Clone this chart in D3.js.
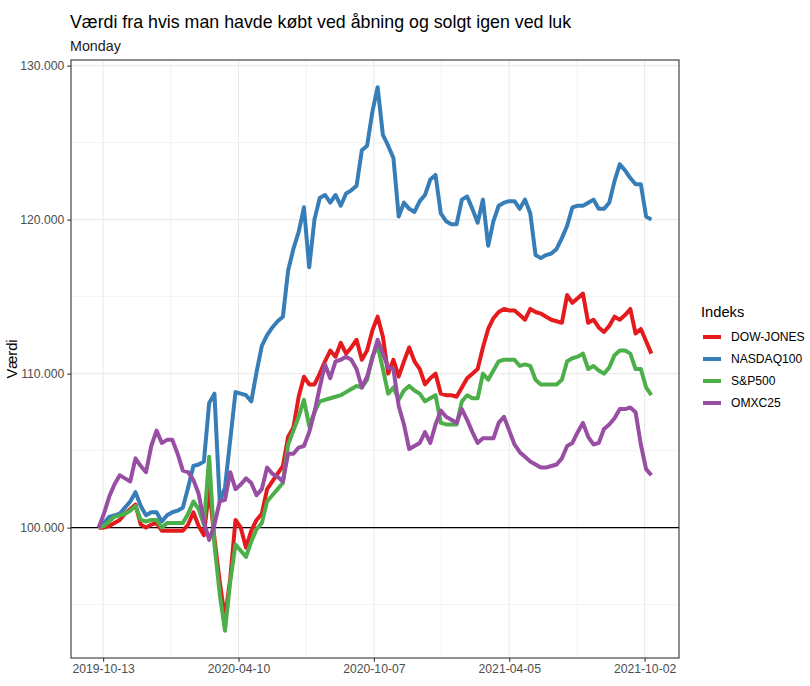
<!DOCTYPE html>
<html>
<head>
<meta charset="utf-8">
<script src="https://cdn.jsdelivr.net/npm/d3@7/dist/d3.min.js"></script>
<style>
    body { margin: 0; background: #ffffff; }
    text { font-family: "Liberation Sans", Arial, sans-serif; }
</style>
</head>
<body>
<div id="chart"></div>
<script>
// Weekly (Monday) values, in thousands (100 = 100.000)
const startDate = new Date(Date.UTC(2019, 9, 7));
const endDate = new Date(Date.UTC(2021, 9, 12));
const dates = d3.utcMonday.range(startDate, endDate);

const seriesNames = ['DOW-JONES', 'NASDAQ100', 'S&P500', 'OMXC25'];
const seriesColors = ['#E41A1C', '#377EB8', '#4DAF4A', '#984EA3'];

const dowJones = [
    100.0, 100.0, 100.1, 100.3, 100.5, 100.9, 101.2, 101.5, 100.2, 100.0,
    100.2, 100.3, 99.8, 99.8, 99.8, 99.8, 99.8, 100.2, 101.0, 100.1,
    99.5, 102.6, 99.3, 96.5, 94.1, 96.7, 100.5, 100.0, 98.7, 99.8,
    100.5, 100.9, 102.5, 103.0, 103.5, 104.0, 105.9, 106.5, 108.5, 109.8,
    109.3, 109.3, 110.0, 110.8, 111.5, 111.1, 112.0, 111.3, 111.7, 112.2,
    110.9, 111.5, 112.8, 113.7, 112.4, 110.0, 110.9, 109.8, 110.8, 111.7,
    110.8, 110.3, 109.3, 109.7, 110.0, 108.7, 108.6, 108.6, 108.5, 109.1,
    109.7, 110.0, 110.3, 111.7, 112.9, 113.6, 114.0, 114.2, 114.1, 114.1,
    113.8, 113.5, 114.2, 114.0, 113.9, 113.7, 113.5, 113.4, 113.3, 115.1,
    114.6, 114.9, 115.2, 113.3, 113.5, 113.0, 112.7, 113.1, 113.7, 113.5,
    113.8, 114.2, 112.6, 112.9, 112.1, 111.3
];

const nasdaq100 = [
    100.0, 100.3, 100.7, 100.8, 100.9, 101.3, 101.7, 102.3, 101.4, 100.8,
    101.0, 101.0, 100.4, 100.8, 101.0, 101.1, 101.3, 102.6, 104.0, 104.1,
    104.3, 108.1, 108.7, 101.7, 102.6, 105.7, 108.8, 108.7, 108.6, 108.2,
    110.1, 111.8, 112.5, 113.0, 113.4, 113.7, 116.7, 118.1, 119.2, 120.8,
    116.9, 120.0, 121.4, 121.6, 121.1, 121.6, 120.9, 121.7, 121.9, 122.2,
    124.5, 124.8, 127.0, 128.6, 125.5, 124.8, 124.0, 120.2, 121.1, 120.7,
    120.5, 121.2, 121.6, 122.6, 122.9, 120.4, 119.9, 119.7, 119.7, 121.3,
    121.5, 120.7, 119.8, 121.3, 118.3, 119.9, 120.9, 121.1, 121.2, 121.2,
    120.7, 121.3, 120.4, 117.7, 117.5, 117.7, 117.8, 118.1, 118.8, 119.6,
    120.8, 120.9, 120.9, 121.1, 121.3, 120.7, 120.7, 121.1, 122.5, 123.6,
    123.2, 122.7, 122.3, 122.3, 120.2, 120.0
];

const sp500 = [
    100.0, 100.1, 100.4, 100.7, 100.8, 100.9, 101.1, 101.4, 100.5, 100.4,
    100.5, 100.5, 100.0, 100.3, 100.3, 100.3, 100.3, 100.9, 101.7, 101.2,
    100.2, 104.6, 98.9, 95.7, 93.3, 96.5, 98.9, 98.5, 98.1, 99.1,
    99.9, 100.3, 101.7, 102.1, 102.5, 102.9, 105.4, 106.3, 107.2, 108.3,
    106.6, 107.5, 108.2, 108.3, 108.4, 108.5, 108.6, 108.8, 109.0, 109.2,
    109.1, 109.6, 111.1, 111.8, 110.3, 108.7, 109.1, 108.3, 108.9, 109.2,
    108.9, 108.7, 108.2, 108.4, 108.6, 106.8, 106.7, 106.7, 106.7, 108.2,
    108.6, 108.4, 108.4, 110.0, 109.6, 110.2, 110.8, 110.9, 110.9, 110.9,
    110.5, 110.6, 110.5, 109.6, 109.3, 109.3, 109.3, 109.3, 109.6, 110.8,
    111.0, 111.1, 111.3, 110.3, 110.5, 110.2, 110.0, 110.4, 111.2, 111.5,
    111.5, 111.3, 110.3, 110.3, 109.1, 108.6
];

const omxc25 = [
    100.0, 100.9, 102.0, 102.8, 103.4, 103.2, 103.0, 104.5, 104.0, 103.6,
    105.3, 106.3, 105.5, 105.7, 105.7, 104.8, 103.7, 103.6, 103.1, 102.2,
    100.4, 99.2, 100.2, 101.7, 101.8, 103.6, 102.5, 102.8, 103.2, 102.9,
    102.1, 102.5, 103.9, 103.5, 103.3, 103.0, 104.8, 104.8, 105.2, 105.3,
    106.2, 107.5, 109.1, 110.6, 109.7, 110.8, 110.9, 111.1, 110.9, 110.3,
    109.1, 109.8, 111.0, 112.2, 111.3, 110.4, 110.3, 107.9, 106.7, 105.1,
    105.3, 105.5, 106.2, 105.5, 106.7, 107.6, 107.2, 107.0, 106.8, 107.7,
    107.0, 106.2, 105.5, 105.8, 105.8, 105.8, 106.8, 107.2, 106.3, 105.4,
    104.9, 104.6, 104.3, 104.1, 103.9, 103.9, 104.0, 104.1, 104.5, 105.3,
    105.5, 106.2, 106.8, 105.9, 105.4, 105.5, 106.4, 106.7, 107.1, 107.7,
    107.7, 107.8, 107.5, 105.4, 103.8, 103.4
];

const seriesValues = [dowJones, nasdaq100, sp500, omxc25];

const xTickDates = ['2019-10-13', '2020-04-10', '2020-10-07', '2021-04-05', '2021-10-02'];
const xMinorDates = ['2020-01-11', '2020-07-09', '2021-01-05', '2021-07-04'];
const yTicks = [100, 110, 120, 130];
const yMinorTicks = [95, 105, 115, 125];
const baseline = 100;

const titleText = 'Værdi fra hvis man havde købt ved åbning og solgt igen ved luk';
const subtitleText = 'Monday';
const yTitle = 'Værdi';
const legendTitle = 'Indeks';

const width = 810;
const height = 686;
const margin = { left: 71, top: 60, right: 131, bottom: 28 };
const panelW = width - margin.left - margin.right;
const panelH = height - margin.top - margin.bottom;

const parseDate = d3.utcParse('%Y-%m-%d');
const daLocale = d3.formatLocale({ decimal: ',', thousands: '.', grouping: [3], currency: ['', ' kr.'] });
const fmtValue = (v) => daLocale.format(',d')(Math.round(v * 1000));

const series = seriesNames.map((name, k) => ({
    name: name,
    color: seriesColors[k],
    points: dates.map((d, i) => ({ date: d, value: seriesValues[k][i] }))
}));

// ggplot-like 5% expansion of the data range
function expand(extent, mult) {
    const pad = (extent[1] - extent[0]) * mult;
    return [extent[0] - pad, extent[1] + pad];
}

const dateExtent = d3.extent(dates).map(d => +d);
const xDomain = expand(dateExtent, 0.05).map(t => new Date(t));
const allValues = seriesValues.flat();
const yDomain = expand(d3.extent(allValues), 0.05);

const x = d3.scaleUtc().domain(xDomain).range([0, panelW]);
const y = d3.scaleLinear().domain(yDomain).range([panelH, 0]);

const svg = d3.select('#chart')
    .append('svg')
    .attr('width', width)
    .attr('height', height);

svg.append('rect')
    .attr('width', width)
    .attr('height', height)
    .attr('fill', '#ffffff');

// titles
svg.append('text')
    .attr('x', margin.left - 1)
    .attr('y', 28)
    .attr('font-size', '17.8px')
    .attr('fill', '#000000')
    .text(titleText);

svg.append('text')
    .attr('x', margin.left - 1)
    .attr('y', 51)
    .attr('font-size', '14.3px')
    .attr('fill', '#1a1a1a')
    .text(subtitleText);

const chart = svg.append('g')
    .attr('transform', `translate(${margin.left}, ${margin.top})`);

chart.append('defs')
    .append('clipPath')
    .attr('id', 'panel-clip')
    .append('rect')
    .attr('width', panelW)
    .attr('height', panelH);

// grid
const grid = chart.append('g').attr('class', 'grid');

grid.selectAll('.minor-x')
    .data(xMinorDates.map(parseDate))
    .join('line')
    .attr('x1', d => x(d))
    .attr('x2', d => x(d))
    .attr('y1', 0)
    .attr('y2', panelH)
    .attr('stroke', '#EBEBEB')
    .attr('stroke-width', 0.6);

grid.selectAll('.minor-y')
    .data(yMinorTicks)
    .join('line')
    .attr('x1', 0)
    .attr('x2', panelW)
    .attr('y1', d => y(d))
    .attr('y2', d => y(d))
    .attr('stroke', '#EBEBEB')
    .attr('stroke-width', 0.6);

grid.selectAll('.major-x')
    .data(xTickDates.map(parseDate))
    .join('line')
    .attr('x1', d => x(d))
    .attr('x2', d => x(d))
    .attr('y1', 0)
    .attr('y2', panelH)
    .attr('stroke', '#EBEBEB')
    .attr('stroke-width', 1.1);

grid.selectAll('.major-y')
    .data(yTicks)
    .join('line')
    .attr('x1', 0)
    .attr('x2', panelW)
    .attr('y1', d => y(d))
    .attr('y2', d => y(d))
    .attr('stroke', '#EBEBEB')
    .attr('stroke-width', 1.1);

// reference line at start value
chart.append('line')
    .attr('x1', 0)
    .attr('x2', panelW)
    .attr('y1', y(baseline))
    .attr('y2', y(baseline))
    .attr('stroke', '#000000')
    .attr('stroke-width', 1.1);

// series lines
const line = d3.line()
    .x(d => x(d.date))
    .y(d => y(d.value));

chart.append('g')
    .attr('clip-path', 'url(#panel-clip)')
    .selectAll('path')
    .data(series)
    .join('path')
    .attr('d', d => line(d.points))
    .attr('fill', 'none')
    .attr('stroke', d => d.color)
    .attr('stroke-width', 4)
    .attr('stroke-linejoin', 'round');

// axes
const xAxis = d3.axisBottom(x)
    .tickValues(xTickDates.map(parseDate))
    .tickFormat(d3.utcFormat('%Y-%m-%d'))
    .tickSize(3.7)
    .tickPadding(3);

const yAxis = d3.axisLeft(y)
    .tickValues(yTicks)
    .tickFormat(fmtValue)
    .tickSize(3.7)
    .tickPadding(3);

const gx = chart.append('g')
    .attr('transform', `translate(0, ${panelH})`)
    .call(xAxis);

const gy = chart.append('g')
    .call(yAxis);

[gx, gy].forEach(g => {
    g.select('.domain').remove();
    g.selectAll('.tick line').attr('stroke', '#333333').attr('stroke-width', 1.1);
    g.selectAll('.tick text')
        .attr('fill', '#4D4D4D')
        .attr('font-size', '12.2px')
        .attr('font-family', '"Liberation Sans", Arial, sans-serif');
});

// panel border
chart.append('rect')
    .attr('width', panelW)
    .attr('height', panelH)
    .attr('fill', 'none')
    .attr('stroke', '#333333')
    .attr('stroke-width', 1.1);

// y axis title
svg.append('text')
    .attr('transform', `translate(17, ${margin.top + panelH / 2}) rotate(-90)`)
    .attr('text-anchor', 'middle')
    .attr('font-size', '14.7px')
    .attr('fill', '#000000')
    .text(yTitle);

// legend
const legend = svg.append('g')
    .attr('transform', 'translate(701, 0)');

legend.append('text')
    .attr('x', 0)
    .attr('y', 317)
    .attr('font-size', '14.7px')
    .attr('fill', '#000000')
    .text(legendTitle);

const legendRow = legend.selectAll('.legend-row')
    .data(series)
    .join('g')
    .attr('transform', (d, i) => `translate(0, ${337 + i * 22})`);

legendRow.append('line')
    .attr('x1', 2)
    .attr('x2', 20)
    .attr('stroke', d => d.color)
    .attr('stroke-width', 4);

legendRow.append('text')
    .attr('x', 30)
    .attr('dy', '0.36em')
    .attr('font-size', '12.1px')
    .attr('fill', '#000000')
    .text(d => d.name);
</script>
</body>
</html>
